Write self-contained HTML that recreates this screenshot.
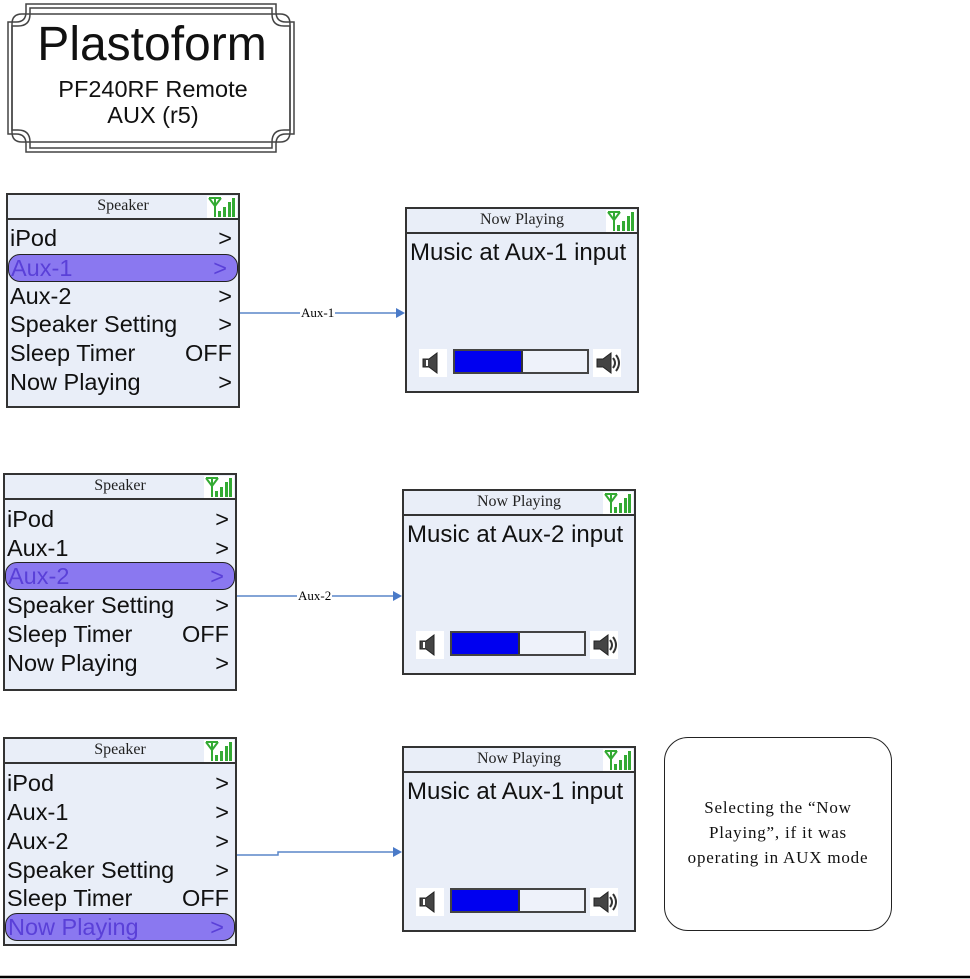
<!DOCTYPE html>
<html><head><meta charset="utf-8"><style>
*{margin:0;padding:0;box-sizing:border-box}
body{width:970px;height:979px;background:#fff;position:relative;overflow:hidden;font-family:"Liberation Sans",sans-serif}
.a{position:absolute}
.menu{position:absolute;width:234px;background:#e9eef8;border:2px solid #333}
.hdr{position:absolute;left:0;right:0;top:0;height:25px;border-bottom:2px solid #333;font-family:"Liberation Serif",serif;font-size:16px;text-align:center;line-height:22px;color:#222}
.sig{position:absolute;right:1px;top:1px;width:30px;height:22px;background:#fff}
.row{position:absolute;left:2px;right:6px;height:28px;font-size:23.5px;line-height:26px;color:#111;white-space:nowrap}
.row span{position:absolute;right:0}
.hl{background:#8a78f0;border:1.5px solid #222;border-radius:12px;color:#5a40d8;left:0;right:0;padding-left:2px}
.hl span{right:10px}
.np{position:absolute;width:234px;height:186px;background:#e9eef8;border:2px solid #333}
.np .t{position:absolute;left:3px;top:30px;font-size:24px;color:#111;white-space:nowrap}
.bar{position:absolute;left:46px;top:140px;width:136px;height:25px;border:2px solid #444;background:#eef2fa}
.bar i{position:absolute;left:0;top:0;bottom:0;width:68px;background:#0000f0;border-right:2px solid #333}
.spk{position:absolute;top:140px;width:28px;height:28px;background:#fff}
.lbl{position:absolute;font-family:"Liberation Serif",serif;font-size:13px;background:#fff;padding:0 1px}
</style></head><body>

<svg class="a" style="left:0;top:0" width="310" height="160">
<g fill="none" stroke="#444" stroke-width="1.5">
<path d="M26 4 H276 V12 Q276 22 286 22 H294 V134 H286 Q276 134 276 144 V152 H26 V144 Q26 134 16 134 H8 V22 H16 Q26 22 26 12 Z"/>
<path d="M30 8 H272 V14 Q272 26 284 26 H290 V130 H284 Q272 130 272 142 V148 H30 V142 Q30 130 18 130 H12 V26 H18 Q30 26 30 14 Z"/>
<path d="M22 14 H280 Q290 14 290 24 V132 Q290 142 280 142 H22 Q12 142 12 132 V24 Q12 14 22 14 Z"/>
</g></svg>
<div class="a" style="left:0;width:304px;top:18px;text-align:center;font-size:48px;line-height:54px;color:#111">Plastoform</div>
<div class="a" style="left:0;width:306px;top:76px;text-align:center;font-size:23.5px;line-height:26px;color:#111">PF240RF Remote<br>AUX (r5)</div>

<svg width="0" height="0" style="position:absolute"><defs>
<g id="sg"><line x1="2" y1="2" x2="14" y2="2" stroke="#3a3" stroke-width="2"/><line x1="2" y1="2" x2="8" y2="10" stroke="#3a3" stroke-width="2"/><line x1="14" y1="2" x2="8" y2="10" stroke="#3a3" stroke-width="2"/><line x1="8" y1="2" x2="8" y2="21" stroke="#3a3" stroke-width="2"/><rect x="11" y="15" width="3" height="6" fill="#3a3"/><rect x="16" y="11" width="3" height="10" fill="#3a3"/><rect x="21" y="6" width="3" height="15" fill="#3a3"/><rect x="25" y="2" width="3" height="19" fill="#3a3"/></g>
<g id="sl"><path d="M4 10 H10 L18 4 V24 L10 18 H4 Z" fill="#444" stroke="#222"/><path d="M8 11 V17" stroke="#fff" stroke-width="2"/></g>
<g id="sr"><path d="M4 10 H10 L18 4 V24 L10 18 H4 Z" fill="#444" stroke="#222"/><path d="M20 9 Q24 14 20 19 M23 6 Q29 14 23 22" fill="none" stroke="#333" stroke-width="2"/></g>
</defs></svg>

<div class="menu" style="left:6px;top:193px;height:215px">
<div class="hdr">Speaker</div><svg class="sig" viewBox="0 0 30 22"><use href="#sg"/></svg>
<div class="row" style="top:30px">iPod<span>&gt;</span></div>
<div class="row hl" style="top:59px">Aux-1<span>&gt;</span></div>
<div class="row" style="top:88px">Aux-2<span>&gt;</span></div>
<div class="row" style="top:116px">Speaker Setting<span>&gt;</span></div>
<div class="row" style="top:145px">Sleep Timer<span>OFF</span></div>
<div class="row" style="top:174px">Now Playing<span>&gt;</span></div>
</div>
<div class="np" style="left:405px;top:207px">
<div class="hdr">Now Playing</div><svg class="sig" viewBox="0 0 30 22"><use href="#sg"/></svg>
<div class="t">Music at Aux-1 input</div>
<svg class="spk" style="left:12px" viewBox="0 0 28 28"><use href="#sl"/></svg>
<div class="bar"><i></i></div>
<svg class="spk" style="left:186px" viewBox="0 0 28 28"><use href="#sr"/></svg>
</div>

<div class="menu" style="left:3px;top:473px;height:218px">
<div class="hdr">Speaker</div><svg class="sig" viewBox="0 0 30 22"><use href="#sg"/></svg>
<div class="row" style="top:31px">iPod<span>&gt;</span></div>
<div class="row" style="top:60px">Aux-1<span>&gt;</span></div>
<div class="row hl" style="top:87px">Aux-2<span>&gt;</span></div>
<div class="row" style="top:117px">Speaker Setting<span>&gt;</span></div>
<div class="row" style="top:146px">Sleep Timer<span>OFF</span></div>
<div class="row" style="top:175px">Now Playing<span>&gt;</span></div>
</div>
<div class="np" style="left:402px;top:489px">
<div class="hdr">Now Playing</div><svg class="sig" viewBox="0 0 30 22"><use href="#sg"/></svg>
<div class="t">Music at Aux-2 input</div>
<svg class="spk" style="left:12px" viewBox="0 0 28 28"><use href="#sl"/></svg>
<div class="bar"><i></i></div>
<svg class="spk" style="left:186px" viewBox="0 0 28 28"><use href="#sr"/></svg>
</div>

<div class="menu" style="left:3px;top:737px;height:209px">
<div class="hdr">Speaker</div><svg class="sig" viewBox="0 0 30 22"><use href="#sg"/></svg>
<div class="row" style="top:31px">iPod<span>&gt;</span></div>
<div class="row" style="top:60px">Aux-1<span>&gt;</span></div>
<div class="row" style="top:89px">Aux-2<span>&gt;</span></div>
<div class="row" style="top:118px">Speaker Setting<span>&gt;</span></div>
<div class="row" style="top:146px">Sleep Timer<span>OFF</span></div>
<div class="row hl" style="top:174px">Now Playing<span>&gt;</span></div>
</div>
<div class="np" style="left:402px;top:746px">
<div class="hdr">Now Playing</div><svg class="sig" viewBox="0 0 30 22"><use href="#sg"/></svg>
<div class="t">Music at Aux-1 input</div>
<svg class="spk" style="left:12px" viewBox="0 0 28 28"><use href="#sl"/></svg>
<div class="bar"><i></i></div>
<svg class="spk" style="left:186px" viewBox="0 0 28 28"><use href="#sr"/></svg>
</div>

<svg class="a" style="left:0;top:0" width="970" height="979">
<g stroke="#5a86c8" stroke-width="1.5" fill="none">
<path d="M240 313 H398"/><path d="M237 596 H395"/><path d="M237 855 H278 V852 H395"/>
</g>
<g fill="#4a7ac8"><path d="M405 313 L396 308 V318 Z"/><path d="M402 596 L393 591 V601 Z"/><path d="M402 852 L393 847 V857 Z"/></g>
<line x1="0" y1="977" x2="970" y2="977" stroke="#000" stroke-width="2.5"/>
</svg>
<div class="lbl" style="left:300px;top:305px">Aux-1</div>
<div class="lbl" style="left:297px;top:588px">Aux-2</div>

<div class="a" style="left:664px;top:737px;width:228px;height:194px;border:1.5px solid #222;border-radius:24px;background:#fff"></div>
<div class="a" style="left:664px;width:228px;top:795px;text-align:center;font-family:'Liberation Serif','Noto Serif CJK SC',serif;font-size:17px;letter-spacing:0.8px;line-height:25px;color:#111">Selecting the “Now<br>Playing”, if it was<br>operating in AUX mode</div>
</body></html>
